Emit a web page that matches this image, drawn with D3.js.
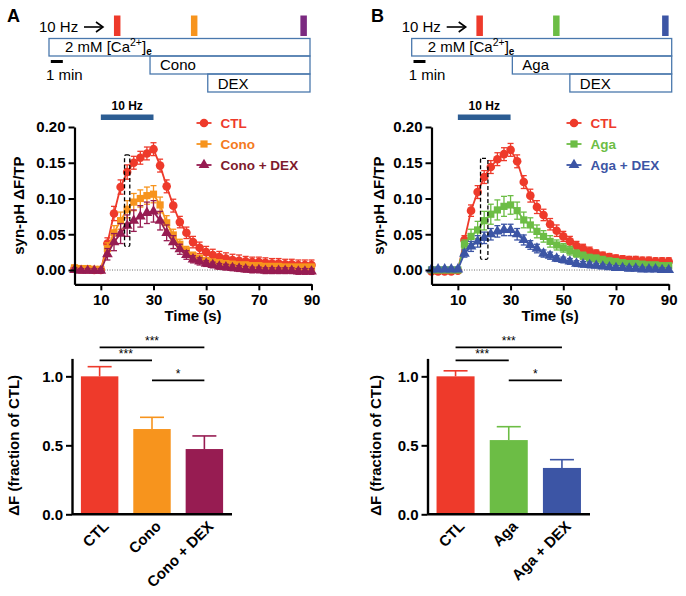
<!DOCTYPE html>
<html><head><meta charset="utf-8">
<script src="https://cdn.jsdelivr.net/npm/d3@7"></script>
<style>
body{margin:0;background:#fff}
svg text{font-family:"Liberation Sans",Arial,Helvetica,sans-serif}
</style>
</head><body>
<svg id="chart" width="686" height="596"></svg>
<script>
// ---------- DATA ----------
const time = [0,2.5,5,7.5,10,12.5,15,17.5,20,22.5,25,27.5,30,32.5,35,37.5,40,42.5,45,47.5,50,52.5,55,57.5,60,62.5,65,67.5,70,72.5,75,77.5,80,82.5,85,87.5,90];
const xTicks = [10,30,50,70,90];
const yTicksLine = [0,0.05,0.10,0.15,0.20];
const yTicksBar = [0,0.5,1.0];

// Panel A traces
const ctlA = [0.002,0.001,0.001,0.000,0.000, 0.037,0.079,0.116,0.137,0.150,0.157,0.163,0.169, 0.146,0.117,0.090,0.067,0.052,0.039,0.031,0.025, 0.021,0.018,0.016,0.014, 0.013,0.012,0.011,0.011, 0.010,0.009,0.009,0.008, 0.008,0.007,0.007,0.007];
const ctlAErr = [0.003,0.003,0.003,0.003,0.003, 0.008,0.010,0.010,0.010,0.009,0.009,0.009,0.009, 0.009,0.009,0.009,0.008,0.008,0.008,0.008,0.008, 0.008,0.008,0.008,0.008, 0.008,0.007,0.007,0.007, 0.007,0.007,0.007,0.007, 0.007,0.007,0.007,0.007];
const cono = [0.003,0.002,0.002,0.001,0.001, 0.030,0.052,0.069,0.085,0.095,0.100,0.104,0.106, 0.091,0.066,0.049,0.036,0.027,0.020,0.016,0.013, 0.011,0.010,0.009,0.008, 0.007,0.007,0.006,0.006, 0.005,0.005,0.005,0.004, 0.004,0.004,0.004,0.004];
const conoErr = [0.003,0.003,0.003,0.003,0.003, 0.008,0.010,0.012,0.012,0.012,0.012,0.012,0.012, 0.011,0.010,0.008,0.007,0.006,0.005,0.005,0.004, 0.004,0.004,0.004,0.004, 0.004,0.004,0.004,0.004, 0.004,0.004,0.004,0.004, 0.004,0.004,0.004,0.004];
const conoDex = [0.000,-0.001,-0.001,-0.001,-0.001, 0.022,0.039,0.051,0.062,0.069,0.075,0.080,0.082, 0.069,0.052,0.039,0.029,0.021,0.015,0.012,0.009, 0.007,0.005,0.004,0.003, 0.002,0.001,0.000,0.000, -0.001,-0.001,-0.001,-0.001, -0.001,-0.002,-0.002,-0.002];
const conoDexErr = [0.003,0.003,0.003,0.003,0.003, 0.008,0.012,0.014,0.015,0.015,0.015,0.015,0.015, 0.013,0.011,0.009,0.007,0.006,0.005,0.005,0.004, 0.004,0.004,0.004,0.004, 0.004,0.004,0.004,0.004, 0.004,0.004,0.004,0.004, 0.004,0.004,0.004,0.004];

// Panel B traces
const ctlB = [-0.002,-0.002,-0.002,-0.002,-0.001, 0.042,0.083,0.109,0.130,0.144,0.155,0.162,0.168, 0.152,0.123,0.104,0.088,0.077,0.064,0.055,0.047, 0.040,0.034,0.030,0.026, 0.023,0.020,0.018,0.016, 0.015,0.014,0.014,0.013, 0.013,0.012,0.012,0.012];
const ctlBErr = [0.003,0.003,0.003,0.003,0.003, 0.006,0.008,0.009,0.009,0.009,0.009,0.009,0.009, 0.009,0.009,0.009,0.009,0.008,0.008,0.008,0.007, 0.007,0.006,0.006,0.006, 0.005,0.005,0.005,0.005, 0.005,0.005,0.005,0.005, 0.005,0.005,0.005,0.005];
const aga = [0.000,0.000,0.000,0.000,0.000, 0.036,0.047,0.056,0.069,0.078,0.084,0.089,0.091, 0.083,0.070,0.063,0.054,0.047,0.040,0.035,0.031, 0.027,0.023,0.020,0.017, 0.016,0.014,0.012,0.011, 0.010,0.009,0.009,0.008, 0.007,0.007,0.006,0.006];
const agaErr = [0.003,0.003,0.003,0.003,0.003, 0.006,0.010,0.012,0.013,0.014,0.014,0.014,0.013, 0.012,0.011,0.010,0.009,0.008,0.008,0.007,0.006, 0.006,0.005,0.005,0.005, 0.005,0.005,0.005,0.005, 0.004,0.004,0.004,0.004, 0.004,0.004,0.004,0.004];
const agaDex = [0.001,0.001,0.001,0.001,0.001, 0.023,0.033,0.040,0.045,0.050,0.054,0.056,0.056, 0.050,0.042,0.035,0.030,0.023,0.020,0.016,0.014, 0.012,0.009,0.008,0.007, 0.006,0.005,0.004,0.003, 0.003,0.002,0.002,0.001, 0.001,0.001,0.000,0.000];
const agaDexErr = [0.003,0.003,0.003,0.003,0.003, 0.005,0.007,0.008,0.008,0.008,0.008,0.008,0.008, 0.008,0.007,0.006,0.006,0.005,0.005,0.004,0.004, 0.004,0.004,0.004,0.004, 0.003,0.003,0.003,0.003, 0.003,0.003,0.003,0.003, 0.003,0.003,0.003,0.003];

// Bar data
const barCatsA = ["CTL","Cono","Cono + DEX"];
const barValsA = [1.00,0.618,0.473];
const barErrsA = [0.070,0.085,0.095];
const barCatsB = ["CTL","Aga","Aga + DEX"];
const barValsB = [1.00,0.538,0.336];
const barErrsB = [0.040,0.097,0.060];
const sigPairs = [[0,2],[0,1],[1,2]];
const sigLabels = ["***","***","*"];
const sigLevels = [1.21,1.115,0.97];

// Protocol schematic (minutes)
const stimTimes = [5.4,11.8,20.9];
const drugStarts = [0,8.4,13.2];
const protoEnd = 21.7;

// stimulation window (s) and zoom boxes [t0,t1,v0,v1]
const stimWindow = [10,30];
const boxA = [19,21,0.033,0.161];
const boxB = [18.6,21.4,0.015,0.156];

// ---------- COLOURS ----------
const RED = "#ee3a2b", ORANGE = "#f7941d", PLUM = "#971c52", GREEN = "#6cbd45", BLUE = "#3c55a5";

const svg = d3.select("#chart");
const FONT = '"Liberation Sans",Arial,sans-serif';

// ---------- Schematic ----------
function schematic(x0, x1, stimColors, drugName, label, labelX) {
  const g = svg.append("g");
  const xs = d3.scaleLinear().domain([0, protoEnd]).range([x0, x1]);
  const boxColor = "#4a78ad";
  const rows = [[38.5,56],[56,74],[74,92]];
  drugStarts.forEach((s,i)=>{
    g.append("rect").attr("x", xs(s)).attr("y", rows[i][0]).attr("width", xs(protoEnd)-xs(s))
      .attr("height", rows[i][1]-rows[i][0]).attr("fill","none").attr("stroke",boxColor).attr("stroke-width",1.3);
  });
  const t = g.append("text").attr("x", xs(0)+16).attr("y", 52).attr("font-size",15);
  t.append("tspan").text("2 mM [Ca");
  t.append("tspan").attr("font-size",10.5).attr("dy",-6).text("2+");
  t.append("tspan").attr("dy",6).text("]");
  t.append("tspan").attr("font-size",10).attr("font-weight","bold").attr("dy",3).text("e");
  g.append("text").attr("x", xs(drugStarts[1])+10).attr("y",70).attr("font-size",15).text(drugName);
  g.append("text").attr("x", xs(drugStarts[2])+10).attr("y",88.5).attr("font-size",15).text("DEX");
  stimTimes.forEach((s,i)=>{
    g.append("rect").attr("x", xs(s)).attr("y",15.5).attr("width",6.5).attr("height",20.5).attr("fill",stimColors[i]);
  });
  g.append("text").attr("x", xs(0)-10).attr("y",32).attr("font-size",15).text("10 Hz");
  g.append("line").attr("x1", xs(0)+35).attr("x2", xs(0)+53).attr("y1",27).attr("y2",27).attr("stroke","#000").attr("stroke-width",1.6);
  g.append("path").attr("d", `M${xs(0)+47},22 L${xs(0)+54},27 L${xs(0)+47},32`).attr("fill","none").attr("stroke","#000").attr("stroke-width",1.6);
  g.append("line").attr("x1", xs(0.15)).attr("x2", xs(1.15)).attr("y1",61.5).attr("y2",61.5).attr("stroke","#000").attr("stroke-width",3);
  g.append("text").attr("x", xs(0)-3).attr("y",80).attr("font-size",15).text("1 min");
  svg.append("text").attr("x", labelX).attr("y",22).attr("font-size",18).attr("font-weight","bold").text(label);
}
schematic(49, 310, [RED, ORANGE, "#7b2a80"], "Cono", "A", 7);
schematic(411.7, 671.7, [RED, GREEN, BLUE], "Aga", "B", 371);

// ---------- Line panels ----------
function linePanel(cfg) {
  const g = svg.append("g");
  const x = d3.scaleLinear().domain([0,90]).range(cfg.xr);
  const y = d3.scaleLinear().domain([-0.02,0.20]).range([284.3,127]);
  g.append("line").attr("x1", x(0)).attr("x2", x(90)).attr("y1", y(0)).attr("y2", y(0))
    .attr("stroke","#444").attr("stroke-width",0.8).attr("stroke-dasharray","1,1.5");
  const symTypes = {circle:d3.symbolCircle, square:d3.symbolSquare, triangle:d3.symbolTriangle};
  const symSize = {circle:58, square:52, triangle:50};
  cfg.series.forEach(s=>{
    const pts = time.map((t,i)=>({t, v:s.mean[i], e:s.err[i]}));
    g.append("path").datum(pts).attr("fill","none").attr("stroke",s.color).attr("stroke-width",1.8)
      .attr("d", d3.line().x(d=>x(d.t)).y(d=>y(d.v)));
    const eb = g.append("g").attr("stroke",s.color).attr("stroke-width",1.3);
    pts.forEach(d=>{
      eb.append("line").attr("x1",x(d.t)).attr("x2",x(d.t)).attr("y1",y(d.v-d.e)).attr("y2",y(d.v+d.e));
      eb.append("line").attr("x1",x(d.t)-3).attr("x2",x(d.t)+3).attr("y1",y(d.v+d.e)).attr("y2",y(d.v+d.e));
      eb.append("line").attr("x1",x(d.t)-3).attr("x2",x(d.t)+3).attr("y1",y(d.v-d.e)).attr("y2",y(d.v-d.e));
    });
    g.append("g").selectAll("path").data(pts).join("path")
      .attr("transform", d=>`translate(${x(d.t)},${y(d.v)})`)
      .attr("d", d3.symbol().type(symTypes[s.shape]).size(symSize[s.shape])).attr("fill", s.color);
  });
  const b = cfg.box;
  g.append("rect").attr("x", x(b[0])).attr("y", y(b[3])).attr("width", x(b[1])-x(b[0])).attr("height", y(b[2])-y(b[3]))
    .attr("rx",1.5).attr("fill","none").attr("stroke","#000").attr("stroke-width",1.3).attr("stroke-dasharray","4,2.5");
  g.append("rect").attr("x", x(stimWindow[0])).attr("y",114.5).attr("width", x(stimWindow[1])-x(stimWindow[0])).attr("height",5.5).attr("fill","#2c5d93");
  g.append("text").attr("x",(x(stimWindow[0])+x(stimWindow[1]))/2).attr("y",110).attr("text-anchor","middle")
    .attr("font-size",12).attr("font-weight","bold").text("10 Hz");
  const ya = g.append("g").attr("transform",`translate(${x(0)},0)`)
    .call(d3.axisLeft(y).tickValues(yTicksLine).tickFormat(d3.format(".2f")).tickSize(6).tickSizeOuter(0).tickPadding(3));
  const xa = g.append("g").attr("transform",`translate(0,${y(-0.02)})`)
    .call(d3.axisBottom(x).tickValues(xTicks).tickSize(6).tickSizeOuter(0).tickPadding(4));
  [ya,xa].forEach(a=>{
    a.select(".domain").attr("stroke-width",2.2);
    a.selectAll(".tick line").attr("stroke-width",2);
    a.selectAll(".tick text").attr("font-family",FONT).attr("font-size",15).attr("font-weight","bold").attr("fill","#000");
  });
  g.append("text").attr("transform",`translate(${x(0)-cfg.ylabOff},${y(0.09)}) rotate(-90)`).attr("text-anchor","middle")
    .attr("font-size",15).attr("font-weight","bold").text("syn-pH ΔF/TP");
  g.append("text").attr("x",(x(0)+x(90))/2).attr("y",321).attr("text-anchor","middle")
    .attr("font-size",15).attr("font-weight","bold").text("Time (s)");
  cfg.series.forEach((s,i)=>{
    const ly = 123 + i*21;
    g.append("line").attr("x1",cfg.legX).attr("x2",cfg.legX+15).attr("y1",ly).attr("y2",ly).attr("stroke",s.color).attr("stroke-width",1.8);
    g.append("path").attr("transform",`translate(${cfg.legX+7.5},${ly})`)
      .attr("d", d3.symbol().type(symTypes[s.shape]).size(symSize[s.shape])).attr("fill",s.color);
    g.append("text").attr("x",cfg.legX+24).attr("y",ly+5).attr("font-size",13.5).attr("font-weight","bold")
      .attr("fill",s.text).text(s.name);
  });
}
linePanel({xr:[74.5,311.5], legX:196.5, box:boxA, ylabOff:51, series:[
  {name:"CTL", mean:ctlA, err:ctlAErr, color:RED, text:RED, shape:"circle"},
  {name:"Cono", mean:cono, err:conoErr, color:ORANGE, text:"#f47a20", shape:"square"},
  {name:"Cono + DEX", mean:conoDex, err:conoDexErr, color:PLUM, text:"#7e1a2c", shape:"triangle"}
]});
linePanel({xr:[431.5,668.7], legX:566.5, box:boxB, ylabOff:48, series:[
  {name:"CTL", mean:ctlB, err:ctlBErr, color:RED, text:RED, shape:"circle"},
  {name:"Aga", mean:aga, err:agaErr, color:GREEN, text:GREEN, shape:"square"},
  {name:"Aga + DEX", mean:agaDex, err:agaDexErr, color:BLUE, text:BLUE, shape:"triangle"}
]});

// ---------- Bar panels ----------
function barPanel(cfg) {
  const g = svg.append("g");
  const x = d3.scaleBand().domain(cfg.cats).range(cfg.xr).paddingInner(0.285).paddingOuter(0.17);
  const y = d3.scaleLinear().domain([0,1.13]).range([514.3,358.4]);
  cfg.cats.forEach((c,i)=>{
    const cx = x(c)+x.bandwidth()/2;
    g.append("line").attr("x1",cx).attr("x2",cx).attr("y1",y(cfg.vals[i])).attr("y2",y(cfg.vals[i]+cfg.errs[i]))
      .attr("stroke",cfg.colors[i]).attr("stroke-width",1.6);
    g.append("line").attr("x1",cx-12).attr("x2",cx+12).attr("y1",y(cfg.vals[i]+cfg.errs[i])).attr("y2",y(cfg.vals[i]+cfg.errs[i]))
      .attr("stroke",cfg.colors[i]).attr("stroke-width",1.6);
  });
  g.selectAll("rect.bar").data(cfg.cats).join("rect").attr("class","bar")
    .attr("x", d=>x(d)).attr("width", x.bandwidth())
    .attr("y", (d,i)=>y(cfg.vals[i])).attr("height",(d,i)=>y(0)-y(cfg.vals[i]))
    .attr("fill",(d,i)=>cfg.colors[i]);
  sigPairs.forEach((p,k)=>{
    const a = x(cfg.cats[p[0]])+x.bandwidth()/2, b = x(cfg.cats[p[1]])+x.bandwidth()/2;
    g.append("line").attr("x1",a).attr("x2",b).attr("y1",y(sigLevels[k])).attr("y2",y(sigLevels[k]))
      .attr("stroke","#000").attr("stroke-width",1.8);
    g.append("text").attr("x",(a+b)/2).attr("y",y(sigLevels[k])-2).attr("text-anchor","middle")
      .attr("font-size",12).text(sigLabels[k]);
  });
  const ya = g.append("g").attr("transform",`translate(${cfg.xr[0]},0)`)
    .call(d3.axisLeft(y).tickValues(yTicksBar).tickFormat(d3.format(".1f")).tickSize(6).tickSizeOuter(0).tickPadding(3));
  ya.select(".domain").attr("stroke-width",2.4);
  ya.selectAll(".tick line").attr("stroke-width",2);
  ya.selectAll(".tick text").attr("font-family",FONT).attr("font-size",15).attr("font-weight","bold").attr("fill","#000");
  g.append("line").attr("x1",cfg.xr[0]).attr("x2",cfg.xr[1]).attr("y1",y(0)).attr("y2",y(0)).attr("stroke","#000").attr("stroke-width",2.4);
  cfg.cats.forEach(c=>{
    const cx = x(c)+x.bandwidth()/2;
    g.append("text").attr("transform",`translate(${cx+10},${y(0)+13}) rotate(-45)`).attr("text-anchor","end")
      .attr("font-size",15).attr("font-weight","bold").text(c);
  });
  g.append("text").attr("transform",`translate(${cfg.xr[0]-cfg.ylabOff},${y(0.5)}) rotate(-90)`).attr("text-anchor","middle")
    .attr("font-size",15).attr("font-weight","bold").text("ΔF (fraction of CTL)");
}
barPanel({cats:barCatsA, vals:barValsA, errs:barErrsA, colors:[RED,ORANGE,PLUM], xr:[72,232], ylabOff:53});
barPanel({cats:barCatsB, vals:barValsB, errs:barErrsB, colors:[RED,GREEN,BLUE], xr:[427.5,590], ylabOff:47});
</script>
</body></html>
